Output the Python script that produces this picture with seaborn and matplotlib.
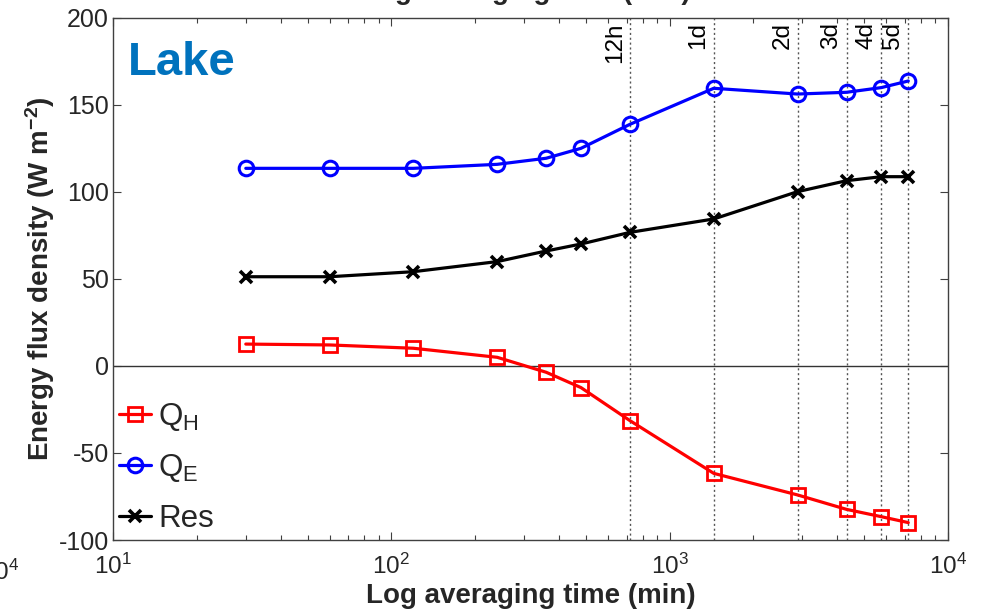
import numpy as np
import pandas as pd
import matplotlib
matplotlib.use("Agg")
import matplotlib.pyplot as plt
import seaborn as sns

# Averaging window lengths (minutes) and mean flux densities (W m-2)
avg_time_min = [30, 60, 120, 240, 360, 480, 720, 1440, 2880, 4320, 5760, 7200]
q_h = [12.6, 12.1, 10.2, 5.0, -3.6, -12.4, -31.4, -61.7, -74.1, -82.4, -86.6, -90.0]
q_e = [113.6, 113.6, 113.6, 115.9, 119.4, 125.1, 138.9, 159.6, 156.3, 157.3, 160.0, 163.8]
res = [51.3, 51.3, 54.2, 60.0, 66.1, 70.1, 76.8, 84.5, 100.2, 106.5, 108.8, 108.8]

# Reference windows marked by vertical lines
ref_minutes = [720, 1440, 2880, 4320, 5760, 7200]
ref_labels = ["12h", "1d", "2d", "3d", "4d", "5d"]

series_names = ["Q$_\\mathrm{H}$", "Q$_\\mathrm{E}$", "Res"]

df = pd.DataFrame({
    "time": avg_time_min * 3,
    "flux": q_h + q_e + res,
    "term": [series_names[0]] * len(q_h) + [series_names[1]] * len(q_e) + [series_names[2]] * len(res),
})

sns.set_theme(style="ticks")
plt.rcParams["font.family"] = ["Liberation Sans", "DejaVu Sans"]
plt.rcParams["mathtext.fontset"] = "custom"
plt.rcParams["mathtext.rm"] = "Liberation Sans"
plt.rcParams["mathtext.it"] = "Liberation Sans:italic"
plt.rcParams["mathtext.bf"] = "Liberation Sans:bold"
plt.rcParams["axes.unicode_minus"] = False

fig = plt.figure(figsize=(9.84, 6.13), dpi=100)
ax = fig.add_axes([113 / 984, 1 - 540 / 613, (948 - 113) / 984, (540 - 18) / 613])

styles = {
    series_names[0]: dict(color="#ff0000", marker="s", ms=9.5, mew=2.0, mfc="none", lw=2.3),
    series_names[1]: dict(color="#0000ff", marker="o", ms=10.5, mew=2.2, mfc="none", lw=2.3),
    series_names[2]: dict(color="#000000", marker="x", ms=8, mew=2.6, lw=2.3),
}

for name in series_names:
    sub = df[df["term"] == name]
    st = styles[name]
    sns.lineplot(data=sub, x="time", y="flux", ax=ax, label=name,
                 color=st["color"], marker=st["marker"], markersize=st["ms"],
                 markeredgewidth=st["mew"], markeredgecolor=st["color"],
                 markerfacecolor=st.get("mfc", st["color"]), linewidth=st["lw"],
                 estimator=None, sort=False)

ax.set_xscale("log")
ax.set_xlim(10, 1e4)
ax.set_ylim(-100, 200)
ax.set_yticks([-100, -50, 0, 50, 100, 150, 200])

# zero line
ax.axhline(0, color="#333333", lw=1.0, zorder=1)

# reference window lines with rotated labels
for m, lab in zip(ref_minutes, ref_labels):
    ax.axvline(m, color="#555555", lw=1.0, ls=(0, (1.5, 2)), zorder=1)
    ax.annotate(lab, xy=(m, 1), xycoords=("data", "axes fraction"),
                xytext=(-3, -3), textcoords="offset points",
                rotation=90, ha="right", va="top", fontsize=17.5, color="black")

for side in ["left", "right", "top", "bottom"]:
    ax.spines[side].set_color("#404040")
    ax.spines[side].set_linewidth(1.0)
ax.tick_params(which="both", direction="in", top=True, right=True, color="#404040")
ax.tick_params(which="major", length=6, width=0.8)
ax.tick_params(which="minor", length=3.5, width=0.8)
ax.tick_params(axis="y", which="major", labelsize=18, pad=3)
ax.tick_params(axis="x", which="major", labelsize=17.5, pad=10)

ax.set_xlabel("Log averaging time (min)", fontsize=20, fontweight="bold", labelpad=3)
ax.set_ylabel("Energy flux density (W m$^{\\mathbf{-2}}$)", fontsize=20, fontweight="bold", labelpad=1)

ax.text(0.018, 0.955, "Lake", transform=ax.transAxes, fontsize=34, fontweight="bold",
        color="#0072bd", ha="left", va="top")

leg = ax.legend(loc="lower left", frameon=False, fontsize=22.5, handlelength=1.0,
                handletextpad=0.25, labelspacing=0.62, borderaxespad=0.1, borderpad=0.1)

# neighbouring panel labels clipped by the figure edges
fig.text(526 / 984, 1 + 1 / 613, "Log averaging time (min)", fontsize=20, fontweight="bold",
         ha="center", va="baseline")
fig.text(19 / 984, 1 - 572 / 613, "10$^{4}$", fontsize=17.5, ha="right", va="center")

fig.savefig("out.png", dpi=100)
